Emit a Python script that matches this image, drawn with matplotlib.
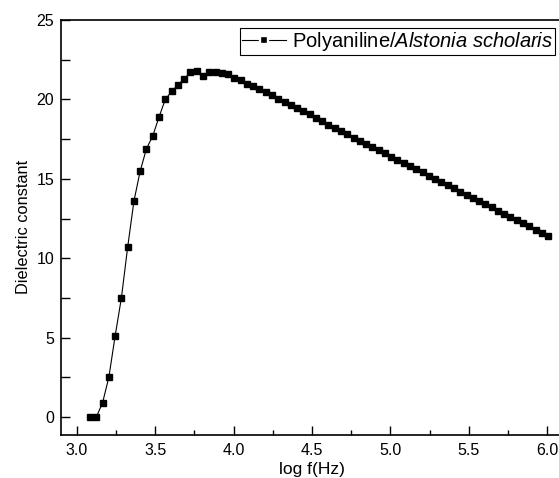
import matplotlib
matplotlib.use('Agg')
import matplotlib.pyplot as plt
from matplotlib.lines import Line2D
from matplotlib.ticker import MultipleLocator

plt.rcParams['font.family'] = ['Liberation Sans', 'DejaVu Sans']
plt.rcParams['mathtext.fontset'] = 'custom'
plt.rcParams['mathtext.rm'] = 'Liberation Sans'
plt.rcParams['mathtext.it'] = 'Liberation Sans:italic'

# log f (Hz)
logf = [3.085, 3.125, 3.165, 3.205, 3.245, 3.285, 3.325, 3.365, 3.405, 3.445,
        3.485, 3.525, 3.565, 3.605, 3.645, 3.685, 3.725, 3.765, 3.805, 3.845,
        3.885, 3.925, 3.965, 4.005, 4.045, 4.085, 4.125, 4.165, 4.205, 4.245,
        4.285, 4.325, 4.365, 4.405, 4.445, 4.485, 4.525, 4.565, 4.605, 4.645,
        4.685, 4.725, 4.765, 4.805, 4.845, 4.885, 4.925, 4.965, 5.005, 5.045,
        5.085, 5.125, 5.165, 5.205, 5.245, 5.285, 5.325, 5.365, 5.405, 5.445,
        5.485, 5.525, 5.565, 5.605, 5.645, 5.685, 5.725, 5.765, 5.805, 5.845,
        5.885, 5.925, 5.965, 6.005]
# dielectric constant
eps = [0.0, 0.0, 0.9, 2.5, 5.1, 7.5, 10.7, 13.6, 15.5, 16.9,
       17.7, 18.9, 20.0, 20.5, 20.9, 21.3, 21.7, 21.8, 21.5, 21.7,
       21.7, 21.65, 21.6, 21.35, 21.2, 21.0, 20.85, 20.65, 20.45, 20.25,
       20.05, 19.85, 19.65, 19.45, 19.25, 19.05, 18.85, 18.65, 18.4, 18.2,
       18.0, 17.8, 17.6, 17.4, 17.2, 17.0, 16.8, 16.6, 16.4, 16.2,
       16.0, 15.8, 15.6, 15.4, 15.2, 15.0, 14.8, 14.6, 14.4, 14.2,
       14.0, 13.8, 13.6, 13.4, 13.2, 13.0, 12.8, 12.6, 12.4, 12.2,
       12.0, 11.8, 11.6, 11.4]
label = 'Polyaniline/$\\mathit{Alstonia\\ scholaris}$'

fig = plt.figure(figsize=(5.59, 4.78), dpi=100)
ax = fig.add_axes([61/559, 43.5/478, 502/559, 414.5/478])

ax.plot(logf, eps, color='black', linewidth=0.8, marker='s', markersize=5)

ax.set_xlim(2.9, 6.1)
ax.set_ylim(-1.1, 25)
ax.xaxis.set_major_locator(MultipleLocator(0.5))
ax.xaxis.set_minor_locator(MultipleLocator(0.25))
ax.yaxis.set_major_locator(MultipleLocator(5))
ax.yaxis.set_minor_locator(MultipleLocator(2.5))
ax.tick_params(which='both', direction='in', labelsize=11.5, width=1)
ax.tick_params(axis='x', which='major', length=6.5, pad=6)
ax.tick_params(axis='x', which='minor', length=3.5)
ax.tick_params(axis='y', which='both', length=6.5, pad=5)
ax.tick_params(top=False, right=False)
for s in ax.spines.values():
    s.set_linewidth(1.2)

ax.set_xlabel('log f(Hz)', fontsize=12.5, labelpad=3)
ax.set_ylabel('Dielectric constant', fontsize=11.8, labelpad=4)

# legend handle: line broken around the marker
handle = Line2D([], [], color='black', linewidth=0.8, marker='s',
                markersize=5.7, markerfacecolor='black',
                markeredgecolor='white', markeredgewidth=1.7)
leg = ax.legend([handle], [label], loc='upper right',
                bbox_to_anchor=(555/559, 1 - 28/478),
                bbox_transform=fig.transFigure, borderaxespad=0,
                fancybox=False, edgecolor='black', fontsize=14.5,
                handlelength=2.2, handletextpad=0.3, borderpad=0.1,
                framealpha=1)
leg.get_frame().set_linewidth(0.8)

plt.savefig('out.png', dpi=100)
